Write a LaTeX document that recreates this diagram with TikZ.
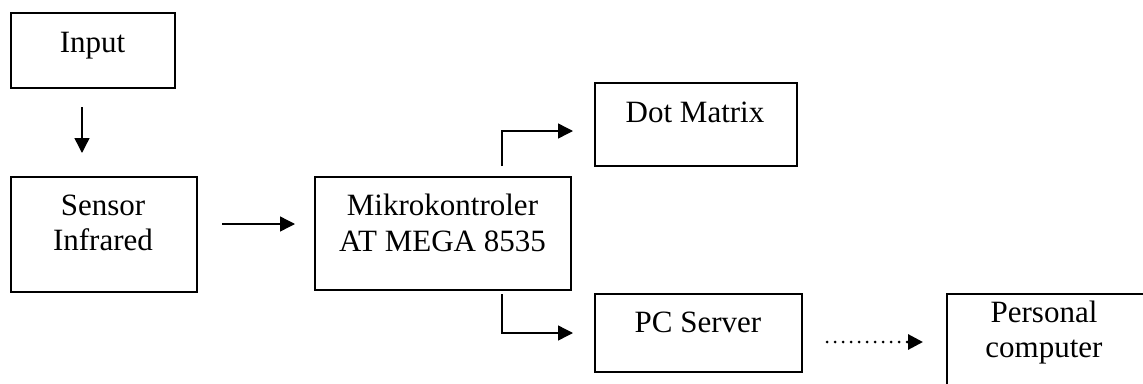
\documentclass[tikz,border=0pt]{standalone}
\usepackage{fontspec}
\setmainfont{Liberation Serif}
\usetikzlibrary{arrows.meta}
\begin{document}
\begin{tikzpicture}[x=1pt,y=-1pt,
  box/.style={draw=black,line width=1.6pt,rectangle,inner sep=0pt},
  txt/.style={inner sep=0pt,anchor=base,font=\fontsize{31}{35}\selectfont},
  conn/.style={line width=1.4pt,-{Triangle[length=15pt,width=15pt]}},
  dotconn/.style={line width=3pt,line cap=round,dash pattern=on 0pt off 8pt,-{Triangle[length=15pt,width=15pt]}}]
\useasboundingbox (0,0) rectangle (1143,383);
\clip (0,0) rectangle (1143,383);
% boxes
\node[box,minimum width=164pt,minimum height=75pt] (input) at (93,50.5) {};
\node[box,minimum width=186pt,minimum height=115pt] (sensor) at (104,234.5) {};
\node[box,minimum width=256pt,minimum height=113pt] (mcu) at (443,233.5) {};
\node[box,minimum width=202pt,minimum height=83pt] (dot) at (696,124.5) {};
\node[box,minimum width=207pt,minimum height=78pt] (pc) at (698.5,333) {};
\node[box,minimum width=230pt,minimum height=120pt,anchor=north west] (personal) at (946,293) {};
% texts
\node[txt] (tinput) at (92.5,52) {Input};
\node[txt] (tsensor1) at (103,215) {Sensor};
\node[txt] (tsensor2) at (103,250) {Infrared};
\node[txt] (tmcu1) at (442.5,215) {Mikrokontroler};
\node[txt] (tmcu2) at (442.5,251) {AT MEGA 8535};
\node[txt] (tdot) at (695,122) {Dot Matrix};
\node[txt] (tpc) at (698,332) {PC Server};
\node[txt] (tpers1) at (1044,322) {Personal};
\node[txt] (tpers2) at (1044,357) {computer};
% connector end points
\coordinate (a1s) at (82,107);
\coordinate (a1e) at (82,153);
\coordinate (a2s) at (222,224);
\coordinate (a2e) at (295,224);
\coordinate (a3s) at (502,166);
\coordinate (a3e) at (573,131);
\coordinate (a4s) at (502,294);
\coordinate (a4e) at (573,333);
\coordinate (a5s) at (827,342);
\coordinate (a5e) at (923,342);
% connectors
\draw[conn] (a1s) -- (a1e);
\draw[conn] (a2s) -- (a2e);
\draw[conn] (a3s) |- (a3e);
\draw[conn] (a4s) |- (a4e);
\draw[dotconn] (a5s) -- (a5e);
\end{tikzpicture}
\end{document}
